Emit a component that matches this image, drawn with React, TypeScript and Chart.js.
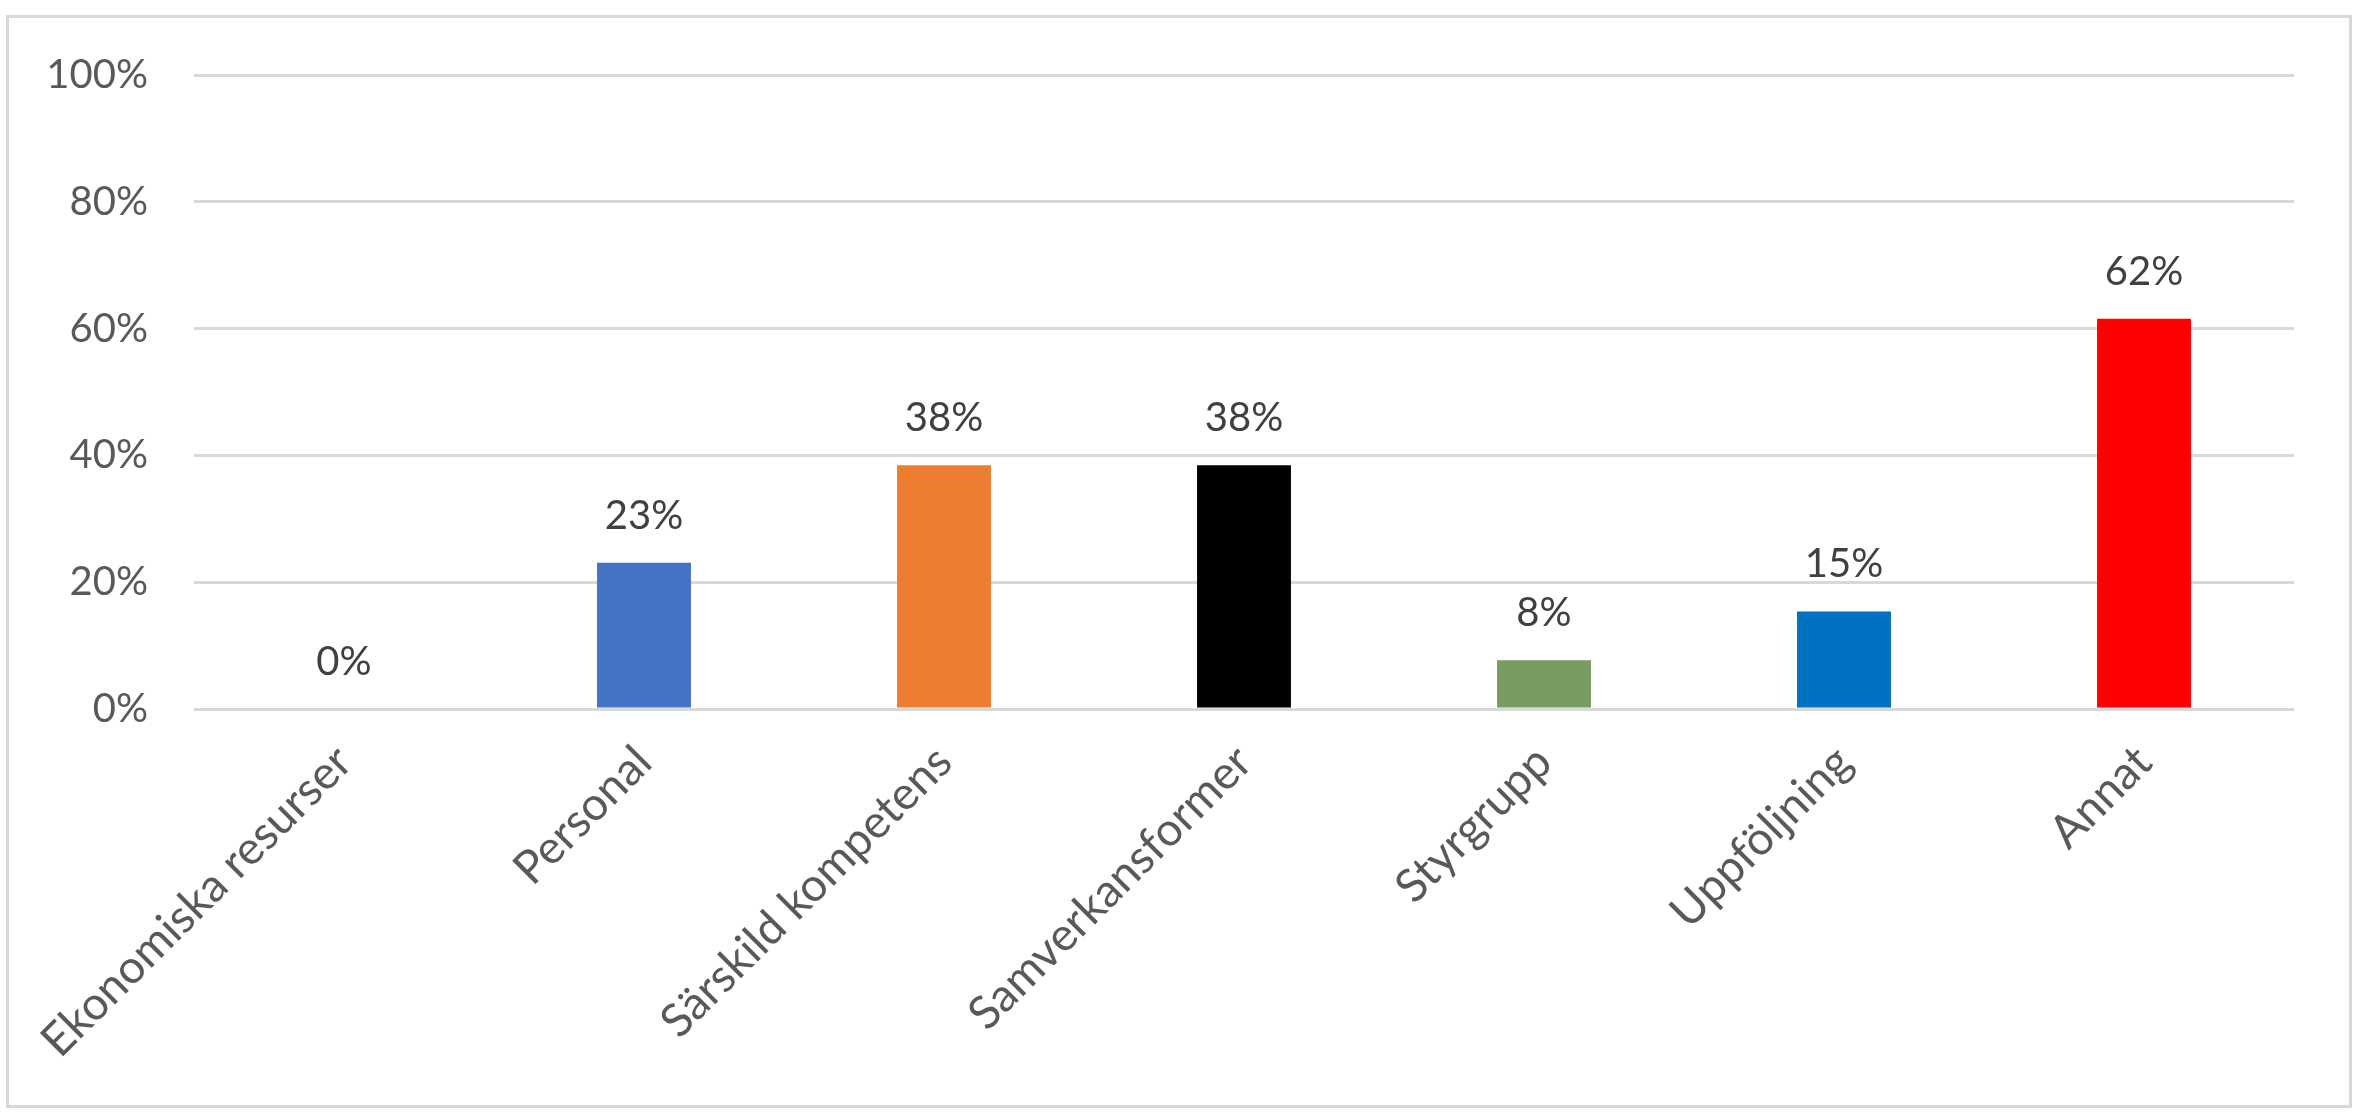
import React, { useEffect, useRef } from "react";
import { Chart, registerables } from "chart.js";

Chart.register(...registerables);

const categories = [
  "Ekonomiska resurser",
  "Personal",
  "Särskild kompetens",
  "Samverkansformer",
  "Styrgrupp",
  "Uppföljning",
  "Annat",
];
const values = [0, 23.08, 38.46, 38.46, 7.69, 15.38, 61.54];
const barColors = ["#4472C4", "#4472C4", "#ED7D31", "#000000", "#789B62", "#0070C0", "#FF0000"];
const yTickValues = [0, 20, 40, 60, 80, 100];

const FONT = "Lato";

const dataLabelPlugin = {
  id: "dataLabels",
  afterDatasetsDraw(chart: any) {
    const ctx = chart.ctx;
    const meta = chart.getDatasetMeta(0);
    ctx.save();
    ctx.font = `40px ${FONT}`;
    ctx.fillStyle = "#404040";
    ctx.textAlign = "center";
    ctx.textBaseline = "alphabetic";
    meta.data.forEach((bar: any, i: number) => {
      const { x, y } = bar.getProps(["x", "y"], true);
      ctx.fillText(Math.round(values[i]) + "%", x, y - 34);
    });
    ctx.restore();
  },
};

export default function App() {
  const ref = useRef<HTMLCanvasElement | null>(null);

  useEffect(() => {
    document.body.style.margin = "0";
    document.body.style.overflow = "hidden";
    const canvas = ref.current;
    if (!canvas) return;
    const chart = new Chart(canvas, {
      type: "bar",
      data: {
        labels: categories,
        datasets: [
          {
            data: values,
            backgroundColor: barColors,
            borderWidth: 0,
            barPercentage: 0.313,
            categoryPercentage: 1,
          },
        ],
      },
      options: {
        animation: false,
        responsive: false,
        maintainAspectRatio: false,
        devicePixelRatio: 1,
        layout: { padding: { top: 75, right: 71, left: 0, bottom: 0 } },
        plugins: {
          legend: { display: false },
          tooltip: { enabled: false },
          title: { display: false },
        },
        scales: {
          x: {
            grid: { display: false, drawTicks: false },
            border: { display: false },
            ticks: {
              autoSkip: false,
              maxRotation: 45,
              minRotation: 45,
              padding: 26,
              color: "#595959",
              font: { family: FONT, size: 46 },
            },
            afterFit(scale: any) {
              scale.height = 1116 - 709;
            },
          },
          y: {
            min: 0,
            max: 100,
            afterBuildTicks(scale: any) {
              scale.ticks = yTickValues.map((v) => ({ value: v }));
            },
            grid: { color: "#D9D9D9", lineWidth: 3, drawTicks: false },
            border: { display: false },
            ticks: {
              padding: 46,
              color: "#595959",
              font: { family: FONT, size: 40 },
              callback: (v: any) => v + "%",
            },
            afterFit(scale: any) {
              scale.width = 194;
            },
          },
        },
      },
      plugins: [dataLabelPlugin],
    });
    return () => chart.destroy();
  }, []);

  return (
    <div style={{ position: "relative", width: 2365, height: 1116, background: "#fff" }}>
      <canvas ref={ref} width={2365} height={1116} style={{ display: "block", width: 2365, height: 1116 }} />
      <div
        style={{
          position: "absolute",
          left: 6,
          top: 15,
          width: 2352 - 6,
          height: 1108 - 15,
          border: "3px solid #D9D9D9",
          boxSizing: "border-box",
          pointerEvents: "none",
        }}
      />
    </div>
  );
}
